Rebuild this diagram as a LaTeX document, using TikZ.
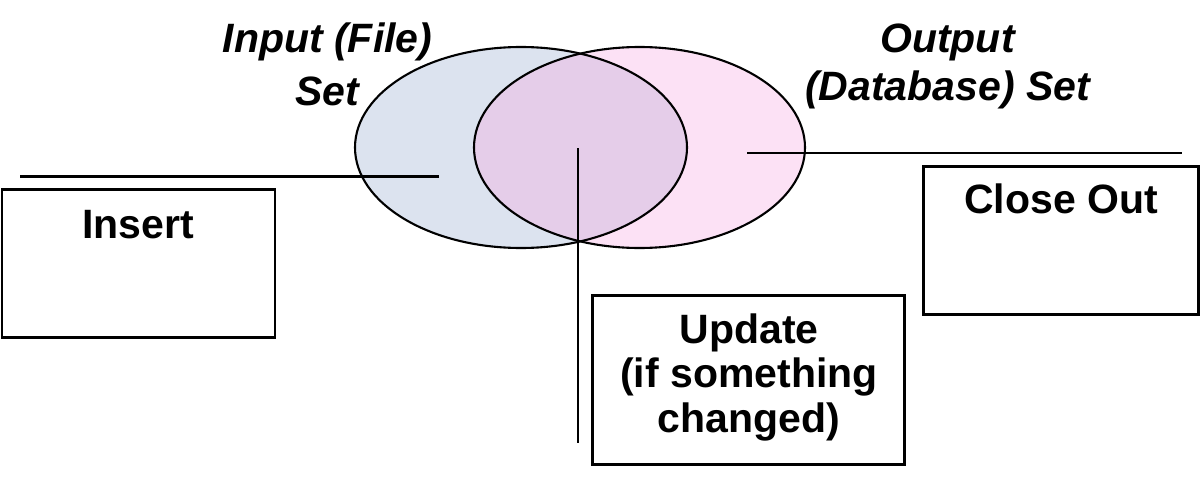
\documentclass[tikz,border=0pt]{standalone}
\usepackage{fontspec}
\setmainfont{Liberation Sans}
\definecolor{setblue}{HTML}{DCE3EF}
\definecolor{setpink}{HTML}{FCE1F5}
\definecolor{setmix}{HTML}{E5CDE9}
\begin{document}
\begin{tikzpicture}[x=1pt,y=-1pt,
  boxstyle/.style={draw=black, line width=2.8pt, fill=white, inner sep=0pt, rectangle},
  lbl/.style={font=\fontsize{41}{44.5}\selectfont\bfseries, inner sep=0pt, anchor=base, align=center},
  setlbl/.style={font=\fontsize{41}{53}\selectfont\bfseries\itshape, inner sep=0pt, anchor=base, align=center},
  conn/.style={draw=black, line width=2.1pt},
  outline/.style={draw=black, line width=2.1pt}]
\useasboundingbox (0,0) rectangle (1202,479);
\fill[white] (0,0) rectangle (1202,479);
% sets
\fill[setblue] (521,147.5) ellipse [x radius=166pt, y radius=100.5pt];
\fill[setpink] (639.5,147.5) ellipse [x radius=165.5pt, y radius=100.5pt];
\begin{scope}
  \clip (521,147.5) ellipse [x radius=166pt, y radius=100.5pt];
  \fill[setmix] (639.5,147.5) ellipse [x radius=165.5pt, y radius=100.5pt];
\end{scope}
\draw[outline] (521,147.5) ellipse [x radius=166pt, y radius=100.5pt];
\draw[outline] (639.5,147.5) ellipse [x radius=165.5pt, y radius=100.5pt];
% labels of sets (base anchor = baseline of the last line)
\node[setlbl] (inlbl) at (327.5,105) {Input (File)\\Set};
\node[setlbl, font=\fontsize{41}{48}\selectfont\bfseries\itshape] (outlbl) at (947.5,100) {Output\\(Database) Set};
% connector ends
\coordinate (inA) at (439,176.5);
\coordinate (inB) at (20,176.5);
\coordinate (upA) at (578,148);
\coordinate (upB) at (578,443);
\coordinate (coA) at (747,153);
\coordinate (coB) at (1182,153);
\draw[conn] (inA) -- (inB);
\draw[conn] (upA) -- (upB);
\draw[conn] (coA) -- (coB);
% boxes
\node[boxstyle, minimum width=273pt, minimum height=148pt] (insertbox) at (138.5,263.5) {};
\node[boxstyle, minimum width=312pt, minimum height=169pt] (updatebox) at (748.5,380) {};
\node[boxstyle, minimum width=275pt, minimum height=148pt] (closebox) at (1061,240.5) {};
\node[lbl] (inserttxt) at (138,238) {Insert};
\node[lbl] (updatetxt) at (749,432) {Update\\(if something\\changed)};
\node[lbl] (closetxt) at (1061,213) {Close Out};
\end{tikzpicture}
\end{document}
